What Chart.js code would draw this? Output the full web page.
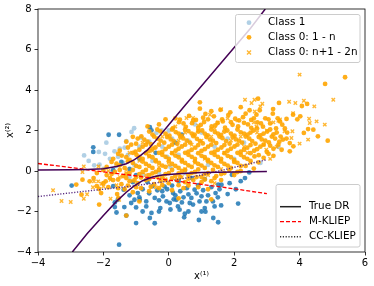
<!DOCTYPE html>
<html>
<head>
<meta charset="utf-8">
<script src="https://cdn.jsdelivr.net/npm/chart.js@4.4.0/dist/chart.umd.min.js"></script>
<style>
  html, body { margin: 0; padding: 0; background: #fff; }
</style>
</head>
<body>
<canvas id="chart" width="374" height="286"></canvas>
<script>
// axis ticks
var xTicks = [-4, -2, 0, 2, 4, 6];
var yTicks = [-4, -2, 0, 2, 4, 6, 8];

// Class 1 samples (darker ones, mostly below the lower branch)
var class1Dark = [
  [-1.52,-3.64],[-1.0,-2.57],[-0.43,-2.58],[-1.3,-2.2],[-0.53,-2.07],[-0.58,-2.32],[-0.26,-1.83],[-0.69,-1.75],
  [-0.69,-1.5],[-0.43,-1.33],[-0.18,-1.25],[-0.07,-1.5],[0.03,-1.58],[0.23,-1.42],[0.28,-1.75],[0.33,-1.91],
  [0.49,-2.11],[0.47,-2.29],[0.64,-1.58],[0.74,-1.66],[0.69,-1.33],[0.79,-0.92],[0.94,-1.5],[1.0,-1.25],
  [0.92,-2.42],[1.1,-1.83],[1.15,-1.5],[1.35,-1.5],[1.4,-1.75],[1.36,-2.32],[1.51,-2.53],[1.12,-2.01],
  [1.43,-1.09],[1.61,-0.68],[1.86,-0.6],[1.93,-0.19],[2.12,-1.61],[2.46,-0.07],[2.33,-0.35],[1.8,-1.14],
  [1.51,-0.67],[-0.13,-0.77],[0.13,-1.09],[-1.65,-1.55],[-1.65,-1.78],[-1.6,-2.05],[-1.36,-1.78],[-1.56,-1.42],
  [-1.05,-1.42],[-0.95,-1.09],[-1.15,-1.58],[-1.38,-0.92],[-2.97,-0.72],[-0.89,-1.42],[-0.8,-0.9],[-0.6,-1.1],
  [-0.5,-0.75],[-0.35,-0.95],[-0.2,-1.0],[-0.05,-0.9],[0.1,-0.72],[0.2,-1.2],[0.35,-1.0],[0.45,-1.3],
  [0.55,-0.85],[0.6,-1.15],[0.85,-1.1],[0.9,-0.7],[1.05,-0.95],[1.2,-1.2],[1.3,-0.8],[1.5,-1.3],
  [1.55,-0.9],[0.4,-1.55],[0.15,-1.4],[-0.3,-1.45],[-0.9,-1.3],[-1.2,-1.2],[-1.0,-1.8],[-0.8,-2.0],
  [-0.3,-2.0],[0.05,-1.9],[0.6,-2.0],[1.0,-2.0],[1.6,-1.7],[2.05,-0.9],[2.2,-0.5],[-1.7,-0.75],
  [-1.1,-0.55],[-0.65,-0.55],[0.3,-0.5],[0.7,-0.35],[1.1,-0.4],[-2.31,1.17],[-2.31,0.94],[-1.84,1.79],
  [-1.52,1.79],[-0.58,2.16],[-0.53,2.01],[0.4,1.79],[-1.45,0.45],[-1.2,0.1],[-1.7,0.05],[-0.9,0.6],
  [-0.4,0.9],[-1.0,-0.2],[0.2,1.4]
];

// Class 1 samples (light ones)
var class1Light = [
  [-2.59,0.77],[-2.14,0.94],[-2.28,0.28],[-2.12,0.31],[-1.91,1.4],[-1.66,0.97],[-1.5,1.1],[-1.3,1.47],
  [-1.14,1.93],[-1.06,2.11],[-0.38,1.88],[-0.22,2.01],[-1.4,0.4],[-1.25,0.8],[-0.9,1.2],[-1.05,0.3],
  [-0.7,0.9],[-1.6,0.25],[-1.8,0.6],[-0.5,0.5],[-0.2,1.2],[0.1,1.6],[0.3,0.8],[0.6,1.5],
  [1.0,1.9],[1.4,1.2],[1.8,1.6],[2.3,1.4],[3.35,1.19],[2.0,0.6],[-0.8,-0.2],[-1.2,-0.3],
  [0.05,0.2],[0.5,-0.1],[-1.75,-0.05],[-2.45,0.5],[-0.3,-0.1],[1.2,0.3],[-1.95,0.85],[-1.35,1.15],
  [-0.85,1.65],[-0.6,1.45],[-1.55,0.7],[-2.0,0.1],[0.0,2.0],[0.8,2.3],[-0.05,0.7],[2.8,0.4]
];

// Class 0, samples 1 - n
var class0First = [
  [0.95,3.39],[0.95,3.08],[1.3,2.95],[1.58,3.02],[1.88,2.9],[2.2,3.15],[2.73,3.57],[2.47,3.0],[2.78,3.0],
  [3.19,3.06],[3.37,3.36],[2.35,2.83],[1.12,2.82],[4.07,3.21],[4.78,4.3],[5.39,4.63],[4.23,3.31],
  [-0.1,2.55],[0.34,2.53],[0.62,2.72],[0.83,2.52],[1.05,2.63],[1.38,2.7],[1.63,2.55],[1.82,2.76],[2.03,2.58],
  [2.27,2.66],[2.52,2.52],[2.68,2.78],[2.95,2.6],[3.18,2.83],[3.33,2.6],[3.6,2.57],[3.8,2.78],[3.93,2.55],[4.02,2.7],
  [-0.65,2.2],[-0.3,2.3],[0.13,2.12],[0.31,2.41],[0.52,2.18],[0.71,2.36],[0.9,2.13],[1.08,2.42],[1.31,2.2],
  [1.49,2.37],[1.72,2.14],[1.9,2.41],[2.12,2.2],[2.3,2.38],[2.52,2.13],[2.71,2.4],[2.88,2.19],[3.1,2.35],
  [3.28,2.1],[3.47,2.29],[4.26,2.07],[4.42,2.04],
  [-1.1,1.69],[-0.84,1.71],[-0.5,1.8],[-0.26,1.96],[0.02,1.74],[0.21,1.92],[0.39,1.73],[0.6,1.97],[0.79,1.79],
  [1.02,2.0],[1.19,1.76],[1.41,1.92],[1.6,1.78],[1.79,2.0],[2.01,1.74],[2.2,1.91],[2.41,1.79],[2.59,2.0],
  [2.8,1.76],[3.01,1.95],[3.2,1.81],[3.42,1.7],[4.13,1.88],[4.56,1.71],[3.62,1.9],
  [-1.3,1.45],[-1.0,1.35],[-0.75,1.55],[-0.55,1.33],[-0.35,1.6],[-0.14,1.4],[0.06,1.56],[0.26,1.34],[0.44,1.61],
  [0.65,1.4],[0.86,1.59],[1.04,1.36],[1.26,1.55],[1.45,1.38],[1.64,1.62],[1.86,1.35],[2.05,1.56],[2.24,1.4],
  [2.46,1.6],[2.65,1.35],[2.84,1.56],[3.06,1.41],[3.25,1.6],[3.49,1.55],[3.7,1.38],[4.86,1.5],
  [-1.5,1.0],[-1.25,1.16],[-1.02,0.95],[-0.8,1.2],[-0.6,1.0],[-0.41,1.16],[-0.2,0.94],[0.0,1.2],[0.21,1.0],
  [0.4,1.21],[0.6,0.96],[0.81,1.15],[1.0,0.99],[1.2,1.2],[1.4,0.95],[1.61,1.16],[1.8,1.0],[2.01,1.21],
  [2.2,0.95],[2.4,1.15],[2.61,1.0],[2.8,1.2],[3.0,0.94],[3.2,1.1],[3.81,1.22],[3.7,0.97],[3.45,1.05],
  [-1.7,0.6],[-1.44,0.76],[-1.2,0.55],[-0.99,0.8],[-0.8,0.6],[-0.6,0.75],[-0.4,0.54],[-0.2,0.8],[0.0,0.6],
  [0.2,0.76],[0.4,0.55],[0.6,0.8],[0.8,0.6],[1.0,0.75],[1.2,0.55],[1.4,0.8],[1.6,0.6],[1.8,0.75],
  [2.0,0.53],[2.2,0.8],[2.4,0.6],[2.62,0.72],[2.9,0.65],[3.2,0.75],
  [-1.9,0.2],[-1.6,0.36],[-1.35,0.15],[-1.1,0.4],[-0.9,0.2],[-0.7,0.35],[-0.5,0.15],[-0.3,0.4],[-0.1,0.2],
  [0.1,0.35],[0.3,0.15],[0.5,0.4],[0.7,0.2],[0.9,0.35],[1.1,0.15],[1.3,0.4],[1.5,0.2],[1.7,0.35],
  [1.9,0.15],[2.1,0.4],[2.35,0.25],[2.74,0.43],[2.6,0.12],
  [-2.2,-0.1],[-1.9,-0.2],[-1.65,-0.05],[-1.4,-0.25],[-1.2,-0.1],[-1.0,-0.3],[-0.8,-0.05],[-0.6,-0.2],[-0.4,-0.05],
  [-0.2,-0.3],[0.0,-0.1],[0.2,-0.25],[0.4,0.0],[0.6,-0.2],[0.8,-0.05],[1.0,-0.3],[1.2,-0.1],[1.45,-0.25],
  [1.7,-0.1],[2.0,-0.2],[2.2,0.0],
  [-2.64,-0.43],[-2.42,-0.51],[-2.0,-0.6],[-1.93,-0.51],[-1.7,-0.45],[-1.45,-0.65],[-1.2,-0.5],[-0.95,-0.6],
  [-0.7,-0.45],[-0.45,-0.65],[-0.25,-0.5],[0.0,-0.6],[0.25,-0.45],[0.5,-0.55],[0.75,-0.45],[1.0,-0.55],
  [1.3,-0.5],[1.6,-0.45],
  [-2.83,-0.67],[-2.67,-1.17],[-2.13,-0.89],[-1.58,-1.14],[-1.35,-0.9],[-1.1,-1.05],[-0.85,-0.85],[-0.6,-1.0],
  [-0.3,-0.85],[0.1,-0.95],[0.45,-0.85],[0.9,-0.8],[1.2,-0.9],
  [-2.13,-1.66],[-2.07,-1.09],[-1.54,-1.33],[-0.9,-1.5],[0.3,-1.35],[1.3,-1.4],[-1.3,-2.2],
  // core, second pass between the rows above
  [0.2,2.6],[0.45,2.35],[0.75,2.5],[0.98,2.28],[1.2,2.55],[1.42,2.25],[1.65,2.45],[1.95,2.28],[2.15,2.5],
  [2.42,2.3],[2.6,2.6],[2.82,2.35],[3.05,2.55],[3.4,2.45],
  [-0.6,1.95],[-0.35,2.05],[-0.1,1.85],[0.1,2.05],[0.3,1.85],[0.5,2.05],[0.7,1.85],[0.9,1.95],[1.1,1.85],
  [1.3,2.05],[1.5,1.85],[1.7,1.95],[1.9,1.85],[2.1,2.05],[2.3,1.85],[2.5,1.9],[2.7,2.1],[2.9,1.85],
  [3.1,2.05],[3.3,1.9],[3.55,2.1],
  [-0.95,1.6],[-0.65,1.45],[-0.45,1.7],[-0.25,1.5],[-0.05,1.68],[0.15,1.48],[0.35,1.68],[0.55,1.5],[0.75,1.72],
  [0.95,1.48],[1.15,1.68],[1.35,1.5],[1.55,1.7],[1.75,1.48],[1.95,1.68],[2.15,1.5],[2.35,1.7],[2.55,1.48],
  [2.75,1.68],[2.95,1.5],[3.15,1.7],[3.38,1.45],[3.6,1.6],
  [-1.15,1.3],[-0.9,1.05],[-0.7,1.3],[-0.5,1.1],[-0.3,1.3],[-0.1,1.08],[0.1,1.3],[0.3,1.1],[0.5,1.3],
  [0.7,1.05],[0.9,1.28],[1.1,1.08],[1.3,1.3],[1.5,1.05],[1.7,1.28],[1.9,1.1],[2.1,1.3],[2.3,1.05],
  [2.5,1.28],[2.7,1.08],[2.9,1.3],[3.1,1.25],[3.35,1.3],
  [-1.55,0.85],[-1.3,0.68],[-1.1,0.9],[-0.9,0.7],[-0.7,0.88],[-0.5,0.68],[-0.3,0.9],[-0.1,0.7],[0.1,0.88],
  [0.3,0.68],[0.5,0.9],[0.7,0.7],[0.9,0.88],[1.1,0.68],[1.3,0.9],[1.5,0.7],[1.7,0.88],[1.9,0.68],
  [2.1,0.9],[2.3,0.68],[2.5,0.88],[2.75,0.78],[3.05,0.85],
  [-1.75,0.45],[-1.5,0.28],[-1.25,0.48],[-1.0,0.25],[-0.8,0.47],[-0.6,0.25],[-0.4,0.48],[-0.2,0.27],[0.0,0.48],
  [0.2,0.25],[0.4,0.47],[0.6,0.28],[0.8,0.48],[1.0,0.27],[1.2,0.48],[1.4,0.28],[1.6,0.47],[1.8,0.27],
  [2.0,0.45],[2.2,0.25],[2.5,0.5],
  [-2.0,0.05],[-1.75,-0.15],[-1.5,0.05],[-1.3,-0.15],[-1.1,0.05],[-0.9,-0.15],[-0.7,0.05],[-0.5,-0.12],[-0.3,0.05],
  [-0.1,-0.15],[0.1,0.05],[0.3,-0.12],[0.5,0.05],[0.7,-0.1],[0.9,0.08],[1.1,-0.15],[1.35,0.05],[1.6,-0.15],
  [1.85,0.05],[2.1,-0.05],
  [-2.3,-0.35],[-1.8,-0.35],[-1.55,-0.42],[-1.3,-0.35],[-1.05,-0.45],[-0.85,-0.32],[-0.6,-0.4],[-0.35,-0.3],
  [-0.1,-0.45],[0.1,-0.35],[0.35,-0.3],[0.6,-0.38],[0.85,-0.3],[1.1,-0.42],[1.4,-0.35],
  [-2.2,-0.75],[-1.85,-0.8],[-1.55,-0.85],[-1.25,-0.72],[-1.0,-0.8],[-0.55,-0.78],[-0.2,-0.7],[0.3,-0.7],[0.6,-0.72]
];

// Class 0, samples n+1 - 2n
var class0Second = [
  [-3.54,-0.95],[-3.28,-1.48],[-3.0,-1.53],[-2.6,0.23],[-2.64,-0.05],[-2.5,-1.15],[-2.6,-1.37],[-2.29,-0.51],
  [-2.16,-0.51],[-2.32,-0.8],[-2.06,-0.63],[-2.15,0.23],[-2.0,-0.76],[-1.78,-0.43],[-1.78,-1.37],[-1.52,-1.42],
  [4.0,4.76],[5.03,3.52],[3.68,3.42],[3.87,3.36],[4.13,3.47],[4.45,3.19],[4.31,2.37],[4.52,2.45],
  [4.77,2.29],[3.75,1.63],[3.78,1.96],[3.4,2.54],[2.62,3.52],[2.33,3.52],[2.8,3.19],[1.26,2.78],
  [0.74,2.62],[0.54,2.62],[0.9,2.24],[2.68,2.2],[3.8,2.86],[4.26,1.55],[3.54,1.96],[3.35,2.48],
  [2.86,3.32],[2.63,2.94],[2.53,3.36],[2.98,1.05],[4.29,2.58],[1.6,3.05],[4.0,1.35],
  [-1.5,-0.3],[-1.3,0.05],[-1.1,-0.5],[-0.9,0.5],[-0.7,-0.2],[-0.5,1.0],[-0.3,0.2],[-0.1,-0.4],
  [0.1,0.9],[0.3,1.5],[0.5,0.1],[0.7,1.3],[0.9,2.0],[1.1,0.6],[1.3,1.7],[1.5,2.4],
  [1.7,0.9],[1.9,1.5],[2.1,2.5],[2.3,1.2],[2.5,0.4],[2.7,1.9],[2.9,1.3],[3.1,0.6],
  [3.3,1.2],[0.0,0.3],[0.4,-0.3],[0.8,0.4],[1.2,-0.2],[1.6,0.1],[2.0,-0.1],[-0.6,0.7],
  [-0.2,1.7],[0.2,2.2],[1.0,1.5],[1.4,2.1],[1.8,2.6],[2.2,1.7],[2.6,2.4],[3.0,2.0],
  [-1.2,0.9],[-0.8,1.4],[-1.85,0.0],[-1.6,-0.7],[-0.4,-0.8],[0.6,-0.6],[1.4,-0.6],[2.4,0.9],
  [3.2,2.4],[0.5,1.9]
];

// density ratio curves
var trueDrUpper = [
  [-4,0.05],[-3,0.06],[-2.5,0.08],[-2,0.11],[-1.6,0.22],[-1.3,0.36],[-1.05,0.56],[-0.85,0.78],
  [-0.65,1.04],[-0.4,1.5],[0,2.28],[0.5,3.25],[1,4.2],[1.5,5.15],[2,6.1],[2.5,7.05],[2.95,8.0]
];
var trueDrLower = [
  [-2.95,-4],[-2.5,-3.1],[-2,-2.2],[-1.6,-1.5],[-1.3,-1.05],[-1.05,-0.72],[-0.8,-0.48],[-0.5,-0.3],
  [-0.2,-0.2],[0.3,-0.13],[1,-0.08],[2,-0.05],[3,-0.03]
];
var mKliep = [[-4,0.37],[-3,0.17],[-2,-0.04],[-1,-0.24],[0,-0.45],[1,-0.66],[2,-0.88],[3,-1.12]];
var ccKliep = [[-4,-1.26],[-3,-1.08],[-2,-0.9],[-1,-0.72],[0,-0.5],[1,-0.2],[2,0.18],[3,0.56]];

var FONT = 'DejaVu Sans';
var PURPLE = '#440154';
var BLUE_DARK = 'rgba(31,119,180,0.85)';
var BLUE_LIGHT = 'rgba(31,119,180,0.35)';
var ORANGE = 'rgba(255,165,0,0.9)';
var ORANGE_X = 'rgba(255,165,0,0.8)';

function toPoints(arr) {
  return arr.map(function (p) { return { x: p[0], y: p[1] }; });
}

function lineSet(label, pts, color, dash, width) {
  return {
    label: label, data: toPoints(pts), showLine: true, borderColor: color,
    borderWidth: width, borderDash: dash, pointRadius: 0, fill: false, tension: 0
  };
}

function roundBox(ctx, x, y, w, h, r) {
  ctx.beginPath();
  ctx.moveTo(x + r, y);
  ctx.arcTo(x + w, y, x + w, y + h, r);
  ctx.arcTo(x + w, y + h, x, y + h, r);
  ctx.arcTo(x, y + h, x, y, r);
  ctx.arcTo(x, y, x + w, y, r);
  ctx.closePath();
  ctx.fillStyle = 'rgba(255,255,255,0.8)';
  ctx.fill();
  ctx.strokeStyle = '#cccccc';
  ctx.lineWidth = 1;
  ctx.stroke();
}

// frame round the plot plus the two legend boxes
var framePlugin = {
  id: 'framePlugin',
  afterDraw: function (chart) {
    var ctx = chart.ctx;
    var a = chart.chartArea;
    ctx.save();
    ctx.strokeStyle = '#000';
    ctx.lineWidth = 0.8;
    ctx.strokeRect(a.left, a.top, a.right - a.left, a.bottom - a.top);

    ctx.font = '10.4px "' + FONT + '"';
    ctx.textBaseline = 'middle';
    ctx.textAlign = 'left';

    // legend for the samples
    roundBox(ctx, 235.5, 14.5, 124.5, 48, 2);
    var rows1 = [22.7, 37.3, 52.5];
    ctx.fillStyle = BLUE_LIGHT;
    ctx.beginPath(); ctx.arc(249, rows1[0], 2.4, 0, Math.PI * 2); ctx.fill();
    ctx.fillStyle = ORANGE;
    ctx.beginPath(); ctx.arc(249, rows1[1], 2.4, 0, Math.PI * 2); ctx.fill();
    ctx.strokeStyle = ORANGE_X;
    ctx.lineWidth = 1.4;
    ctx.beginPath();
    ctx.moveTo(247, rows1[2] - 2); ctx.lineTo(251, rows1[2] + 2);
    ctx.moveTo(251, rows1[2] - 2); ctx.lineTo(247, rows1[2] + 2);
    ctx.stroke();
    ctx.fillStyle = '#000';
    ctx.fillText('Class 1', 268, rows1[0]);
    ctx.fillText('Class 0: 1 - n', 268, rows1[1]);
    ctx.fillText('Class 0: n+1 - 2n', 268, rows1[2]);

    // legend for the procedures
    roundBox(ctx, 276, 184.5, 84, 62.5, 2);
    ctx.textAlign = 'center';
    ctx.fillText('DRE Procedure', 318, 192.7);
    ctx.textAlign = 'left';
    var rows2 = [206.7, 221.7, 236.7];
    var handles = [
      { color: '#222', dash: [], w: 1.5 },
      { color: 'red', dash: [4, 2], w: 1.3 },
      { color: '#333', dash: [1.2, 1.6], w: 1.4 }
    ];
    var names = ['True DR', 'M-KLIEP', 'CC-KLIEP'];
    for (var i = 0; i < 3; i++) {
      ctx.strokeStyle = handles[i].color;
      ctx.lineWidth = handles[i].w;
      ctx.setLineDash(handles[i].dash);
      ctx.beginPath();
      ctx.moveTo(280, rows2[i]); ctx.lineTo(301, rows2[i]);
      ctx.stroke();
      ctx.setLineDash([]);
      ctx.fillStyle = '#000';
      ctx.fillText(names[i], 309, rows2[i]);
    }
    ctx.restore();
  }
};

function minus(v) { return v < 0 ? '\u2212' + Math.abs(v) : String(v); }

new Chart(document.getElementById('chart'), {
  type: 'scatter',
  data: {
    datasets: [
      lineSet('True DR', trueDrUpper, PURPLE, [], 1.5),
      lineSet('True DR lower', trueDrLower, PURPLE, [], 1.5),
      lineSet('M-KLIEP', mKliep, 'red', [4, 2], 1.3),
      lineSet('CC-KLIEP', ccKliep, '#5a2d82', [1.2, 1.6], 1.4),
      {
        label: 'Class 0: n+1 - 2n', data: toPoints(class0Second), pointStyle: 'crossRot',
        pointRadius: 2.4, borderWidth: 1.4, borderColor: ORANGE_X, backgroundColor: ORANGE_X
      },
      {
        label: 'Class 0: 1 - n', data: toPoints(class0First), pointRadius: 2.4,
        borderWidth: 0, backgroundColor: ORANGE
      },
      {
        label: 'Class 1', data: toPoints(class1Light), pointRadius: 2.4,
        borderWidth: 0, backgroundColor: BLUE_LIGHT
      },
      {
        label: 'Class 1 dark', data: toPoints(class1Dark), pointRadius: 2.4,
        borderWidth: 0, backgroundColor: BLUE_DARK
      }
    ]
  },
  options: {
    responsive: false,
    animation: false,
    layout: { padding: { top: 9, right: 9, left: 0, bottom: 0 } },
    plugins: { legend: { display: false }, tooltip: { enabled: false } },
    scales: {
      x: {
        type: 'linear', min: -4, max: 6,
        afterBuildTicks: function (s) { s.ticks = xTicks.map(function (v) { return { value: v }; }); },
        afterFit: function (s) { s.height = 34; },
        grid: { drawOnChartArea: false, tickLength: 3.5, color: '#000', lineWidth: 0.8 },
        border: { display: false },
        ticks: { font: { family: FONT, size: 10 }, color: '#000', padding: 2, maxRotation: 0,
                 callback: function (v) { return minus(v); } },
        title: { display: true, text: 'x\u207D\u00B9\u207E', font: { family: FONT, size: 10 },
                 color: '#000', padding: { top: 0, bottom: 4 } }
      },
      y: {
        type: 'linear', min: -4, max: 8,
        afterBuildTicks: function (s) { s.ticks = yTicks.map(function (v) { return { value: v }; }); },
        afterFit: function (s) { s.width = 38; },
        grid: { drawOnChartArea: false, tickLength: 3.5, color: '#000', lineWidth: 0.8 },
        border: { display: false },
        ticks: { font: { family: FONT, size: 10 }, color: '#000', padding: 3,
                 callback: function (v) { return minus(v); } },
        title: { display: true, text: 'x\u207D\u00B2\u207E', font: { family: FONT, size: 10 },
                 color: '#000', padding: { top: 4, bottom: 0 } }
      }
    }
  },
  plugins: [framePlugin]
});
</script>
</body>
</html>
